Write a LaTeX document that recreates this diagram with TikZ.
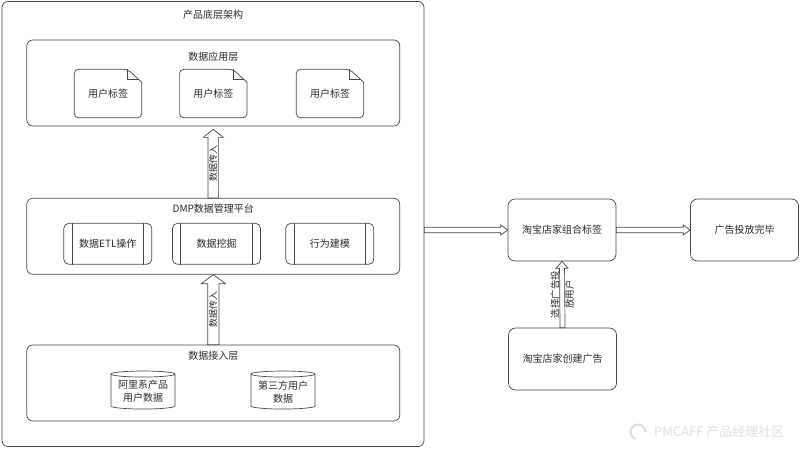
\documentclass[tikz,border=0pt]{standalone}
\usepackage{fontspec}
\setmainfont{Noto Sans CJK SC}
\usetikzlibrary{calc,positioning,shapes.geometric}

\definecolor{strokegray}{RGB}{70,70,70}
\definecolor{textgray}{RGB}{40,40,40}
\definecolor{markgray}{RGB}{222,222,222}

\tikzset{
  line/.style={draw=strokegray, line width=0.7pt},
  layer/.style={line, rounded corners=6pt, inner sep=0pt},
  box/.style={line, rounded corners=7pt, minimum width=108pt, minimum height=62pt, inner sep=0pt},
  procbox/.style={line, rounded corners=5pt, minimum width=88pt, minimum height=41pt, inner sep=0pt},
  docbox/.style={minimum width=67pt, minimum height=48pt, inner sep=0pt},
  dbbox/.style={line, cylinder, shape border rotate=90, aspect=0.12, minimum width=64pt, minimum height=38pt, inner sep=0pt, align=center},
  ttl/.style={inner sep=0pt, text=textgray},
  arrlabel/.style={inner sep=0pt, rotate=90, font=\fontsize{9}{14}\selectfont, text=textgray, align=center},
  hollow/.style={line, fill=white, line join=miter},
}

% hollow arrow: #1 shaft half width, #2 head half width, #3 head length, #4 from, #5 to
\newcommand{\hollowarrow}[5]{%
  \coordinate (hm) at ($(#5)!#3pt!(#4)$);
  \draw[hollow] ($(#4)!#1pt!90:(#5)$) -- ($(hm)!#1pt!90:(#5)$) -- ($(hm)!#2pt!90:(#5)$)
    -- (#5) -- ($(hm)!#2pt!-90:(#5)$) -- ($(hm)!#1pt!-90:(#5)$) -- ($(#4)!#1pt!-90:(#5)$) -- cycle;
}

\begin{document}
\begin{tikzpicture}[x=1pt,y=-1pt,font=\fontsize{10}{13}\selectfont,text=textgray]
\useasboundingbox (0,0) rectangle (800,448);

%Outer frame
\node[layer, minimum width=422pt, minimum height=445pt] (base) at (213,224) {};
\node[ttl, yshift=-14pt] (basettl) at (base.north) {产品底层架构};

%Application layer
\node[layer, minimum width=373pt, minimum height=86pt] (app) at (213.3,83) {};
\node[ttl, yshift=-17pt] (appttl) at (app.north) {数据应用层};
\foreach \n/\x in {doc1/108, doc2/213.3, doc3/330}{
  \node[docbox] (\n) at (\x,93.5) {用户标签};
  \draw[line, rounded corners=4pt] (\n.north west) -- ($(\n.north east)+(-14,0)$)
    [sharp corners] -- ($(\n.north east)+(0,13)$) [rounded corners=4pt] -- (\n.south east) -- (\n.south west) -- cycle;
  \draw[line, line width=0.5pt] ($(\n.north east)+(-14,0)$) -- ($(\n.north east)+(-14,10)$) -- ($(\n.north east)+(-3,10)$);
}

%DMP platform
\node[layer, minimum width=373pt, minimum height=76pt] (dmp) at (213.3,236.3) {};
\node[ttl, yshift=-11pt] (dmpttl) at (dmp.north) {DMP数据管理平台};
\node[procbox] (etl) at (107.8,243.8) {数据ETL操作};
\node[procbox] (mine) at (216.5,243.8) {数据挖掘};
\node[procbox] (model) at (329.8,243.8) {行为建模};
\foreach \p in {etl,mine,model}{
  \draw[line] ($(\p.north west)+(8.6,0)$) -- ($(\p.south west)+(8.6,0)$);
  \draw[line] ($(\p.north east)+(-8.6,0)$) -- ($(\p.south east)+(-8.6,0)$);
}

%Data access layer
\node[layer, minimum width=373pt, minimum height=76pt] (acc) at (213.3,383) {};
\node[ttl, yshift=-11pt] (accttl) at (acc.north) {数据接入层};
\node[dbbox] (ali) at (143,391.7) {阿里系产品\\用户数据};
\node[dbbox] (third) at (283,391.7) {第三方用户\\数据};

%Layer arrows
\coordinate (apptip) at ($(app.south)+(0,3)$);
\hollowarrow{5.3}{10}{8}{dmp.north}{apptip}
\node[arrlabel] (lbl1) at ($(dmp.north)!0.5!(apptip)$) {数据传入};
\hollowarrow{5.6}{12}{9}{acc.north}{dmp.south}
\node[arrlabel] (lbl2) at ($(acc.north)!0.5!(dmp.south)$) {数据传入};

%Ad flow
\node[box] (tag) at (562,230) {淘宝店家组合标签};
\node[box] (done) at (744.5,230) {广告投放完毕};
\node[box] (create) at (562.5,359) {淘宝店家创建广告};
\coordinate (basetap) at (base.east |- tag.west);
\hollowarrow{2.8}{5}{7}{basetap}{tag.west}
\hollowarrow{2.8}{5}{7}{tag.east}{done.west}
\hollowarrow{2.5}{6}{7}{create.north}{tag.south}
\node[arrlabel, font=\fontsize{9.5}{14.5}\selectfont] (lbl3) at ($(create.north)!0.5!(tag.south)$) {选择广告投\\放用户};

%Watermark
\coordinate (logo) at (638,432);
\draw[markgray, line width=2pt] ($(logo)+(7.5,0)$) arc[start angle=0, end angle=-250, radius=7.5];
\node[ttl, text=markgray, font=\fontsize{13}{13}\selectfont, anchor=west] (mark) at (654,432) {PMCAFF 产品经理社区};
\end{tikzpicture}
\end{document}
